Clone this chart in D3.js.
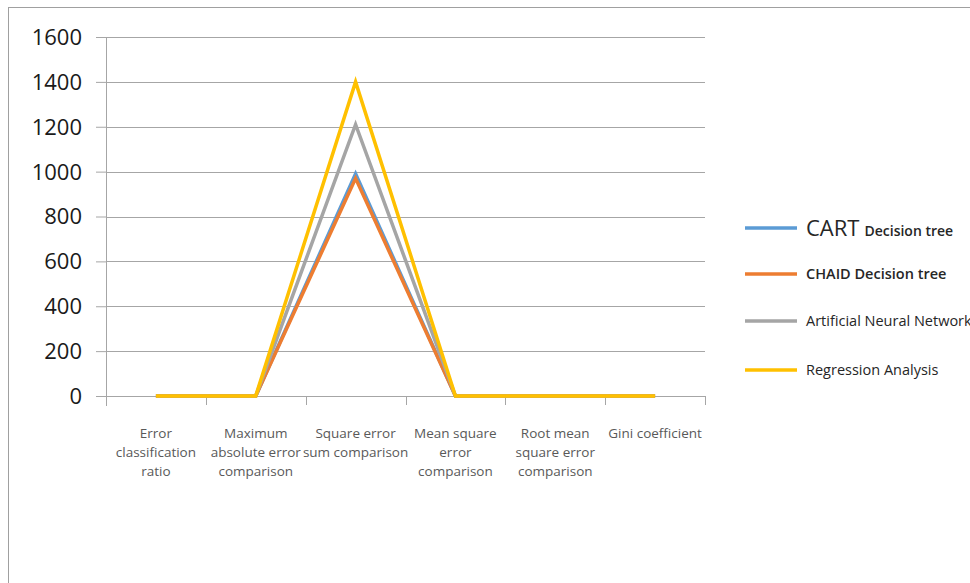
<!DOCTYPE html>
<html><head><meta charset="utf-8">
<script src="https://cdn.jsdelivr.net/npm/d3@7"></script>
<style>body{margin:0;background:#fff}svg{display:block}</style>
</head><body><svg id="c" width="970" height="583"></svg>
<script>
const categories = [
  ["Error","classification","ratio"],
  ["Maximum","absolute error","comparison"],
  ["Square error","sum comparison"],
  ["Mean square","error","comparison"],
  ["Root mean","square error","comparison"],
  ["Gini coefficient"]
];
const cartValues = [0.2, 0.5, 990, 0.3, 0.5, 0.3];
const chaidValues = [0.2, 0.5, 970, 0.3, 0.5, 0.3];
const annValues = [0.2, 0.5, 1210, 0.3, 0.5, 0.3];
const regValues = [0.2, 0.5, 1400, 0.3, 0.5, 0.3];
const seriesNames = ["CART", "CHAID Decision tree", "Artificial Neural Network", "Regression Analysis"];
const seriesColors = ["#5b9bd5", "#ed7d31", "#a5a5a5", "#ffc000"];
const yTicks = [0, 200, 400, 600, 800, 1000, 1200, 1400, 1600];

const svg = d3.select("#c");
const font = "'Open Sans','Noto Sans',sans-serif";
svg.append("rect").attr("x",8.5).attr("y",7.5).attr("width",1000).attr("height",700)
  .attr("fill","#fff").attr("stroke","#a0a0a0").attr("stroke-width",1);

const x0 = 106, x1 = 705, yTop = 37, yBot = 396;
const x = d3.scaleBand().domain(d3.range(categories.length)).range([x0, x1]);
const y = d3.scaleLinear().domain([0, 1600]).range([yBot, yTop]);

const gy = svg.append("g").attr("transform", `translate(${x0},0)`)
  .call(d3.axisLeft(y).tickValues(yTicks).tickSize(10).tickPadding(14).tickFormat(d3.format("d")));
gy.select(".domain").remove();
gy.selectAll("line").attr("stroke","#a6a6a6");
gy.selectAll("text").attr("font-family",font).attr("font-size",22).attr("fill","#1a1a1a").attr("dy","0.34em");
svg.append("g").selectAll("line").data(yTicks).join("line")
  .attr("x1",x0).attr("x2",x1).attr("y1",d=>Math.round(y(d))+0.5).attr("y2",d=>Math.round(y(d))+0.5)
  .attr("stroke","#a6a6a6").attr("stroke-width",1);
svg.append("line").attr("x1",x0+0.5).attr("x2",x0+0.5).attr("y1",yTop).attr("y2",yBot+10)
  .attr("stroke","#a6a6a6");

const xt = d3.range(categories.length+1).map(i => x0 + i*x.step());
svg.append("g").selectAll("line").data(xt).join("line")
  .attr("x1",d=>Math.round(d)+0.5).attr("x2",d=>Math.round(d)+0.5).attr("y1",yBot).attr("y2",yBot+9)
  .attr("stroke","#a6a6a6");

const cx = i => x(i) + x.bandwidth()/2;
const lbl = svg.append("g");
categories.forEach((lines,i) => {
  const t = lbl.append("text").attr("font-family",font).attr("font-size",13.5).attr("fill","#595959")
    .attr("text-anchor","middle");
  lines.forEach((s,j) => t.append("tspan").attr("x",cx(i)).attr("y",438+j*19).text(s));
});

const allSeries = [cartValues, chaidValues, annValues, regValues];
const line = d3.line().x((d,i)=>cx(i)).y(d=>y(d));
allSeries.forEach((vals,k) => {
  svg.append("path").datum(vals).attr("d",line).attr("fill","none")
    .attr("stroke",seriesColors[k]).attr("stroke-width",3.5).attr("stroke-linejoin","miter");
});

const ly = [228, 274, 321, 370];
const lg = svg.append("g");
seriesNames.forEach((n,k) => {
  lg.append("line").attr("x1",745).attr("x2",797).attr("y1",ly[k]).attr("y2",ly[k])
    .attr("stroke",seriesColors[k]).attr("stroke-width",3.5);
  const t = lg.append("text").attr("x",806).attr("y",ly[k]+5).attr("font-family",font)
    .attr("font-size",14.5).attr("fill","#262626");
  if (k === 0) {
    t.attr("y", ly[k]+8);
    t.append("tspan").attr("font-size",22).text("CART");
    t.append("tspan").attr("font-size",14).attr("dx",5).attr("font-weight",600).text("Decision tree");
  } else if (k === 1) {
    t.attr("font-weight",600).attr("font-size",14.5).text(n);
  } else {
    t.text(n);
  }
});
</script></body></html>
